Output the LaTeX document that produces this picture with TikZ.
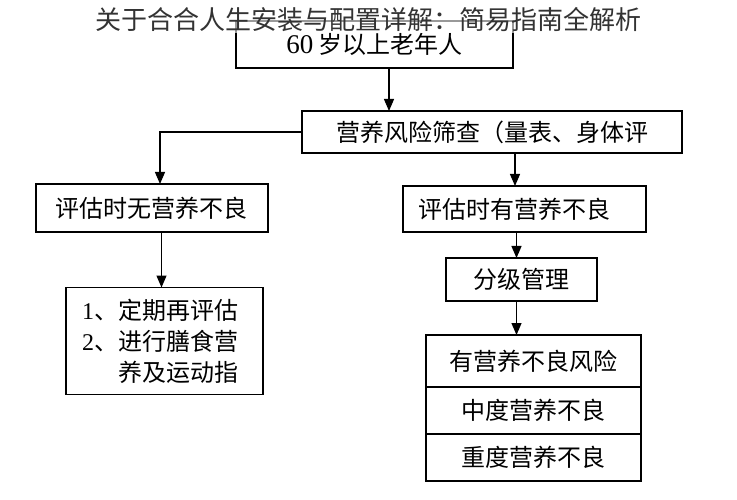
\documentclass[tikz,border=0pt]{standalone}
\usepackage{fontspec}
\setmainfont{Liberation Serif}
\newfontfamily\cjk{Noto Sans CJK SC}
\usetikzlibrary{arrows.meta,positioning}

\begin{document}
\begin{tikzpicture}
  [x=1pt, y=-1pt]
  \tikzstyle{box} = [draw=black, line width=1.2pt, inner sep=0pt, outer sep=0pt, font=\fontsize{24}{31}\selectfont\cjk];
  \tikzstyle{arr} = [draw=black, line width=1.2pt, -{Triangle[length=12pt, width=10pt]}];

  \useasboundingbox (0,0) rectangle (737,500);

  \node[box, minimum width=277pt, minimum height=47pt] (old) at (374.5, 44.5) {{\rmfamily\fontsize{27}{31}\selectfont 60} 岁以上老年人};
  \node[box, minimum width=380pt, minimum height=42pt] (screen) at (492, 132) {营养风险筛查（量表、身体评};

  \node[box, minimum width=232pt, minimum height=48pt] (nomal) at (152, 208) {评估时无营养不良};
  \node[box, text width=213pt, inner xsep=15pt, align=left, minimum height=46pt] (mal) at (524.5, 209) {评估时有营养不良};

  \node[box, text width=165pt, inner xsep=16pt, align=left, minimum height=107pt] (advice) at (164.5, 341)
    {{\rmfamily 1}、定期再评估\\{\rmfamily 2}、进行膳食营\\\hspace*{36pt}养及运动指};
  \node[box, minimum width=151pt, minimum height=43pt] (grade) at (521.5, 279.5) {分级管理};

  \node[box, minimum width=215pt, minimum height=52pt] (risk) at (533.5, 361) {有营养不良风险};
  \node[box, minimum width=215pt, minimum height=47pt, below=0pt of risk] (mid) {中度营养不良};
  \node[box, minimum width=215pt, minimum height=47pt, below=0pt of mid] (sev) {重度营养不良};

  % arrows
  \coordinate (c1) at ([xshift=14.5pt]old.south);
  \coordinate (c2) at ([xshift=8pt]nomal.north);
  \coordinate (c3) at ([xshift=-9.5pt]mal.north);
  \coordinate (c4) at ([xshift=-3pt]advice.north);
  \coordinate (c5) at ([xshift=-5pt]grade.north);

  \draw[arr] (c1) -- (c1 |- screen.north);
  \draw[arr] (screen.west) -| (c2);
  \draw[arr] (c3 |- screen.south) -- (c3);
  \draw[arr] (c4 |- nomal.south) -- (c4);
  \draw[arr] (c5 |- mal.south) -- (c5);
  \draw[arr] (c5 |- grade.south) -- (c5 |- risk.north);

  % watermark
  \fill[white, opacity=0.6] (88,0) rectangle (652,33);
  \node[text=black!80, font=\fontsize{26}{26}\selectfont\cjk] (title) at (368.5, 20) {关于合合人生安装与配置详解：简易指南全解析};

\end{tikzpicture}
\end{document}
